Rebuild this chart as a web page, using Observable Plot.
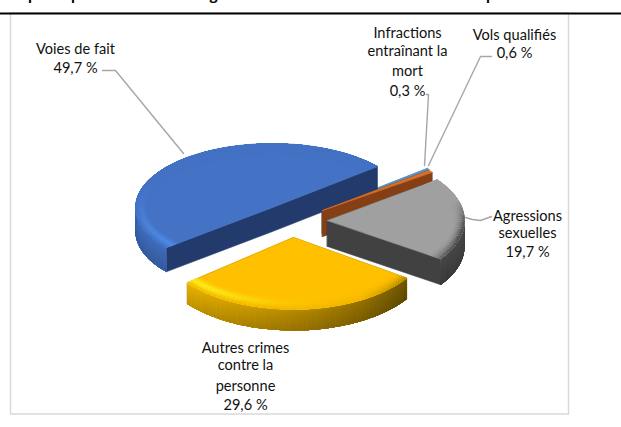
<!DOCTYPE html>
<html lang="fr">
<head>
<meta charset="utf-8">
<title>Répartition des crimes</title>
<script src="https://cdn.jsdelivr.net/npm/d3@7"></script>
<script src="https://cdn.jsdelivr.net/npm/@observablehq/plot@0.6"></script>
<style>
html,body{margin:0;padding:0;background:#fff;overflow:hidden}
svg{display:block}
</style>
</head>
<body>
<div id="chart"></div>
<script>
// DATA (clockwise, starting from the largest slice)
const categories = ["Voies de fait", "Infractions entraînant la mort", "Vols qualifiés", "Agressions sexuelles", "Autres crimes contre la personne"];
const values = [49.7, 0.3, 0.6, 19.7, 29.6];
const labelLines = [
  ["Voies de fait"],
  ["Infractions", "entraînant la", "mort"],
  ["Vols qualifiés"],
  ["Agressions", "sexuelles"],
  ["Autres crimes", "contre la", "personne"]
];

// LAYOUT AND STYLE
const W = 621, H = 427;
const endAngle = 50; // where the first slice ends, degrees clockwise from "up"
const geometry = [
  {cx: 272, cy: 207, a: 137, b: 64, depth: 24},
  {cx: 322, cy: 209, a: 137, b: 64, depth: 24},
  {cx: 322, cy: 210, a: 137, b: 64, depth: 26},
  {cx: 327, cy: 220, a: 137, b: 68, depth: 26},
  {cx: 293, cy: 237, a: 137, b: 72, depth: 21}
];
const styles = [
  {top: "#4472c4", face: "#223b6c", rim: ["#3f6bba", "#3a63ad", "#33589c"], hi: "#4f8ce8", lo: "#3560ad", bevel: true},
  {top: "#5b9bd5", face: "#2e5f8a", rim: ["#2e5f8a"], hi: "#5b9bd5", lo: "#5b9bd5", bevel: false},
  {top: "#d9712a", face: "#843f14", rim: ["#843f14"], hi: "#d9712a", lo: "#d9712a", bevel: false},
  {top: "#a0a0a0", face: "#414141", rim: ["#464646"], hi: "#a8a8a8", lo: "#474747", bevel: true},
  {top: "#ffc000", face: "#7f6000", rim: ["#e6b000", "#b48800", "#6e5500"], hi: "#fff01a", lo: "#8a6b00", bevel: true}
];
const labelLayout = [
  {x: 75, y: [49], py: 68},
  {x: 407, y: [33, 51, 71], py: 91},
  {x: 514, y: [35], py: 53},
  {x: 527, y: [216, 233], py: 252},
  {x: 245, y: [348, 365, 386], py: 405}
];
const leaders = [
  [[102, 70], [115, 70], [183, 153]],
  [[426, 94], [428, 94], [424, 165]],
  [[491, 56], [480, 56], [428, 165]],
  [[465, 217], [472, 219], [480, 220], [491, 216]]
];
const titleScraps = [{c: "p", x: 32}, {c: "p", x: 75}, {c: "g", x: 213}, {c: "p", x: 490}];

// GEOMETRY
const rad = (d) => d * Math.PI / 180;
const total = d3.sum(values);
const spans = [];
{
  let t = endAngle - values[0] / total * 360;
  values.forEach((v) => { const e = t + v / total * 360; spans.push([t, e]); t = e; });
}
// a point of the slice's ellipse, moved in by `inset` pixels along the radius line
const pt = (g, t, inset = 0, dz = 0) => {
  const s = Math.sin(rad(t)), c = Math.cos(rad(t));
  const a2 = g.a - inset, b2 = g.b - inset;
  const phi = Math.atan2(g.a * s / a2, g.b * c / b2);
  return [g.cx + a2 * Math.sin(phi), g.cy - b2 * Math.cos(phi) + dz];
};
const polys = [];
const addPoly = (pts, fill, outlined = false) => {
  polys.push({id: polys.length, fill, stroke: outlined ? fill : "none", pts});
};
const range = (t0, t1, step) => {
  const out = [];
  for (let t = t0; t < t1 - 1e-6; t += step) out.push([t, Math.min(t + step * 2, t1)]);
  return out;
};
const arcPts = (g, a, b, ins = 0, dz = 0) => {
  const n = Math.max(1, Math.ceil((b - a) / 2));
  return d3.range(n + 1).map((k) => pt(g, a + (b - a) * k / n, ins, dz));
};

const inset = 12, insetSteps = 10;
function bevelColor(s, t, u) {
  const lit = Math.cos(rad(t - 240));
  const hi = Math.pow(Math.max(0, Math.cos(rad(t - 232))), 4) * Math.exp(-Math.pow((u - 0.5) / 0.3, 2));
  const vis = Math.max(0, Math.min(1, (0.3 - Math.cos(rad(t))) / 0.5));
  const dark = Math.min(1, vis * (0.12 + 1.5 * Math.max(0, -lit)) * u * u);
  const c1 = d3.interpolateRgb(s.top, s.hi)(hi);
  return d3.interpolateRgb(c1, s.lo)(dark);
}

// paint order: back to front
const paintOrder = [1, 0, 2, 3, 4];
for (const i of paintOrder) {
  const g = geometry[i], s = styles[i], [t0, t1] = spans[i];
  const o = [g.cx, g.cy];
  // cut faces: one bent shape for a half pie, two quads for a wedge
  const p0 = pt(g, t0), p1 = pt(g, t1);
  const down = ([x, y]) => [x, y + g.depth];
  if (t1 - t0 > 170) {
    addPoly([p0, o, p1, down(p1), down(o), down(p0)], s.face, true);
  } else {
    addPoly([o, p0, down(p0), down(o)], s.face, true);
    addPoly([o, p1, down(p1), down(o)], s.face, true);
  }
  // rim
  const rimColor = s.rim.length > 1 ? d3.interpolateRgbBasis(s.rim) : () => s.rim[0];
  const strips = 8;
  for (const [a, b] of range(t0, t1, 2)) {
    const m = ((a + b) / 2 % 360 + 360) % 360;
    if (m < 84 || m > 276) continue;
    const tt = (t1 - m) / (t1 - t0);
    for (let k = 0; k < strips; k++) {
      const c = d3.interpolateRgb(rimColor(tt), "#000")(k / strips * 0.18);
      const top = arcPts(g, a, b, 0, g.depth * k / strips);
      const bot = arcPts(g, a, b, 0, g.depth).reverse();
      addPoly([...top, ...bot], c);
    }
  }
  // top surface
  addPoly([o, ...arcPts(g, t0, t1)], s.top, true);
  // bevel: painted inner to outer and overlapping, so that no seams show
  if (s.bevel) {
    for (const [a, b] of range(t0, t1, 2)) {
      const m = a + 1;
      for (let k = 0; k < insetSteps; k++) {
        const i0 = inset * (1 - k / insetSteps);
        const u = (k + 0.5) / insetSteps;
        const c = bevelColor(s, m, u);
        addPoly([...arcPts(g, a, b, i0), ...arcPts(g, a, b, 0).reverse()], c);
      }
    }
  }
}
const polyRows = polys.flatMap((p) => p.pts.map(([x, y]) => ({id: p.id, fill: p.fill, stroke: p.stroke, x, y})));

const pct = (v) => v.toFixed(1).replace(".", ",") + " %";
const labelRows = categories.flatMap((_, i) => [
  ...labelLines[i].map((text, k) => ({text, x: labelLayout[i].x, y: labelLayout[i].y[k]})),
  {text: pct(values[i]), x: labelLayout[i].x, y: labelLayout[i].py}
]);
const leaderRows = leaders.flatMap((l, i) => l.map(([x, y]) => ({i, x, y})));

const plot = Plot.plot({
  width: W, height: H,
  margin: 0,
  x: {domain: [0, W], range: [0, W], axis: null},
  y: {domain: [0, H], range: [0, H], axis: null},
  color: {type: "identity"},
  marks: [
    Plot.rect([{}], {x1: 10.5, x2: 568.5, y1: 13, y2: 414, fill: "#fff", stroke: "#d9d9d9", strokeWidth: 1.5}),
    Plot.ruleY([13], {stroke: "#000", strokeWidth: 2}),
    Plot.text(titleScraps, {x: "x", y: () => -1, text: "c", fontFamily: "Lato", fontWeight: 700, fontSize: 16, fill: "#000", lineAnchor: "bottom"}),
    Plot.line(leaderRows, {x: "x", y: "y", z: "i", stroke: "#a6a6a6", strokeWidth: 1.4}),
    Plot.line(polyRows, {x: "x", y: "y", z: "id", fill: "fill", stroke: "stroke", strokeWidth: 0.6, curve: "linear-closed"}),
    Plot.text(labelRows, {x: "x", y: "y", text: "text", fontFamily: "Lato", fontSize: 14.6, fill: "#111", lineAnchor: "middle", textAnchor: "middle"})
  ]
});
document.getElementById("chart").appendChild(plot);
</script>
</body>
</html>
